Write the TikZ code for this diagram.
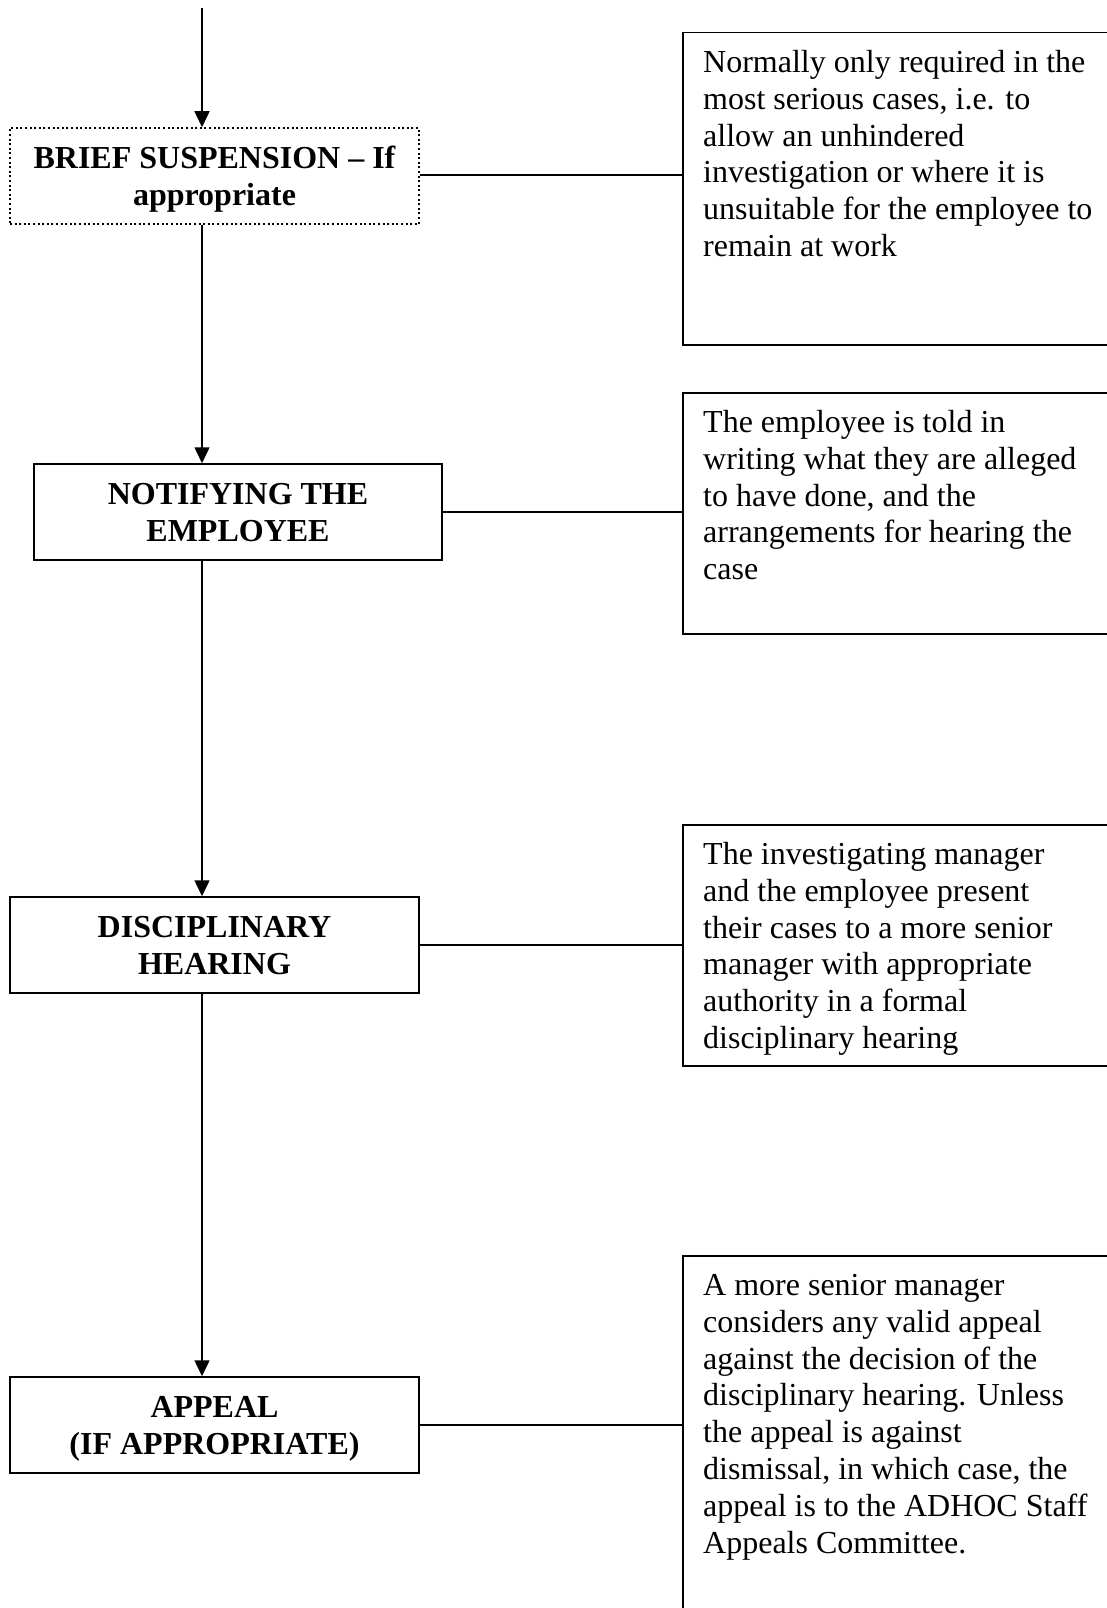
\documentclass[tikz,border=0pt]{standalone}
\usepackage{fontspec}
\setmainfont{Liberation Serif}
\usetikzlibrary{arrows.meta,calc}
\newcommand\topfix{\rule{0pt}{33pt}}
\begin{document}
\begin{tikzpicture}[x=1pt,y=-1pt,
  lbox/.style={draw,line width=1.5pt,rectangle,inner sep=0pt,minimum width=408pt,minimum height=96pt,align=center,font=\fontsize{32}{36.9}\selectfont\bfseries},
  dotbox/.style={lbox,dash pattern=on 2pt off 2.6pt},
  rbox/.style={draw,line width=1.5pt,rectangle,inner sep=0pt,anchor=north west,minimum width=440pt},
  rtext/.style={inner sep=0pt,anchor=north west,align=left,font=\fontsize{32}{36.9}\selectfont},
  flow/.style={line width=1.5pt,-{Triangle[width=15pt,length=16pt]}},
  link/.style={line width=1.5pt}]
\useasboundingbox (0,0) rectangle (1107,1608);
\clip (0,0) rectangle (1107,1608);
% left boxes
\node[dotbox,minimum width=409pt] (b1) at (214.5,176) {\topfix BRIEF SUSPENSION -- If\\appropriate\strut};
\node[lbox] (b2) at (238,512) {\topfix NOTIFYING THE\\EMPLOYEE\strut};
\node[lbox,minimum width=409pt] (b3) at (214.5,945) {\topfix DISCIPLINARY\\HEARING\strut};
\node[lbox,minimum width=409pt] (b4) at (214.5,1425) {\topfix APPEAL\\(IF APPROPRIATE)\strut};
% right boxes
\node[rbox,minimum height=312pt] (r1) at (682,32) {};
\node[rbox,minimum height=241pt] (r2) at (682,392) {};
\node[rbox,minimum height=241pt] (r3) at (682,824) {};
\node[rbox,minimum height=400pt] (r4) at (682,1255) {};
\node[rtext] (t1) at (703,46.2) {\strut Normally only required in the\\most serious cases, i.e. to\\allow an unhindered\\investigation or where it is\\unsuitable for the employee to\\remain at work};
\node[rtext] (t2) at (703,406.2) {\strut The employee is told in\\writing what they are alleged\\to have done, and the\\arrangements for hearing the\\case};
\node[rtext] (t3) at (703,838.2) {\strut The investigating manager\\and the employee present\\their cases to a more senior\\manager with appropriate\\authority in a formal\\disciplinary hearing};
\node[rtext] (t4) at (703,1269.2) {\strut A more senior manager\\considers any valid appeal\\against the decision of the\\disciplinary hearing. Unless\\the appeal is against\\dismissal, in which case, the\\appeal is to the ADHOC Staff\\Appeals Committee.};
% flow arrows
\coordinate (start) at (202,8);
\draw[flow] (start) -- (start |- b1.north);
\draw[flow] (start |- b1.south) -- (start |- b2.north);
\draw[flow] (start |- b2.south) -- (start |- b3.north);
\draw[flow] (start |- b3.south) -- (start |- b4.north);
% links
\draw[link] (b1.east |- 0,175) -- (r1.west |- 0,175);
\draw[link] (b2.east) -- (b2.east -| r2.west);
\draw[link] (b3.east) -- (b3.east -| r3.west);
\draw[link] (b4.east) -- (b4.east -| r4.west);
\end{tikzpicture}
\end{document}
